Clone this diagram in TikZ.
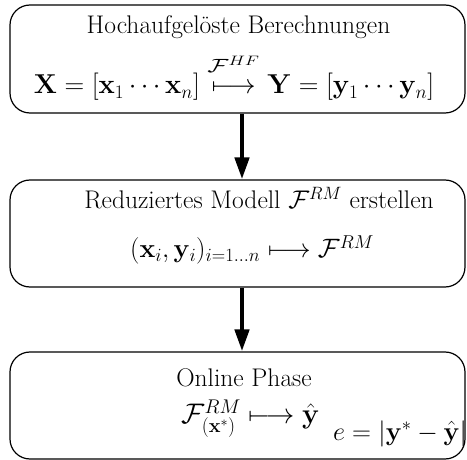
\RequirePackage{fix-cm}
\documentclass[tikz,border=0pt]{standalone}
\usepackage{amsmath}
\usetikzlibrary{arrows.meta,calc}
\begin{document}
\begin{tikzpicture}[x=1pt,y=-1pt,
  box/.style={draw, line width=1.2pt, rounded corners=20pt, minimum width=455pt, inner sep=0pt},
  txt/.style={font=\fontsize{25.5}{30}\selectfont, inner sep=0pt, anchor=base},
  flow/.style={line width=4.5pt, -{Triangle[length=22pt,width=14pt]}}]
\useasboundingbox (0,0) rectangle (467,460);
\node[box, minimum height=108pt] (b1) at (237.5,59) {};
\node[box, minimum height=107pt] (b2) at (237.5,233.5) {};
\node[box, minimum height=107pt] (b3) at (237.5,405.5) {};
\node[txt] (t1) at (238.5,34) {Hochaufgelöste Berechnungen};
\node[txt, font=\fontsize{27.3}{32}\selectfont] (m1) at (234,94) {$\mathbf{X}=[\mathbf{x}_1\cdots\mathbf{x}_n]\stackrel{\raisebox{7pt}{\scalebox{1.35}[1]{$\scriptstyle\mathcal{F}^{HF}$}}}{\longmapsto}\mathbf{Y}=[\mathbf{y}_1\cdots\mathbf{y}_n]$};
\node[txt] (t2) at (259,209) {Reduziertes Modell $\mathcal{F}^{RM}$ erstellen};
\node[txt, font=\fontsize{26.6}{31}\selectfont] (m2) at (252,258) {$(\mathbf{x}_i,\mathbf{y}_i)_{i=1\ldots n}\longmapsto\mathcal{F}^{RM}$};
\node[txt] (t3) at (244,386) {Online Phase};
\node[txt, font=\fontsize{28.3}{33}\selectfont] (m3) at (250.5,424) {$\mathcal{F}^{RM}_{(\mathbf{x}^*)}\longmapsto\hat{\mathbf{y}}$};
\node[txt, font=\fontsize{26.3}{31}\selectfont] (m4) at (400,440) {$e=|\mathbf{y}^*-\hat{\mathbf{y}}|$};
\draw[flow] ($(b1.south)+(4.5,0)$) -- ($(b2.north)+(4.5,0)$);
\draw[flow] ($(b2.south)+(4.5,0)$) -- ($(b3.north)+(4.5,0)$);
\end{tikzpicture}
\end{document}
